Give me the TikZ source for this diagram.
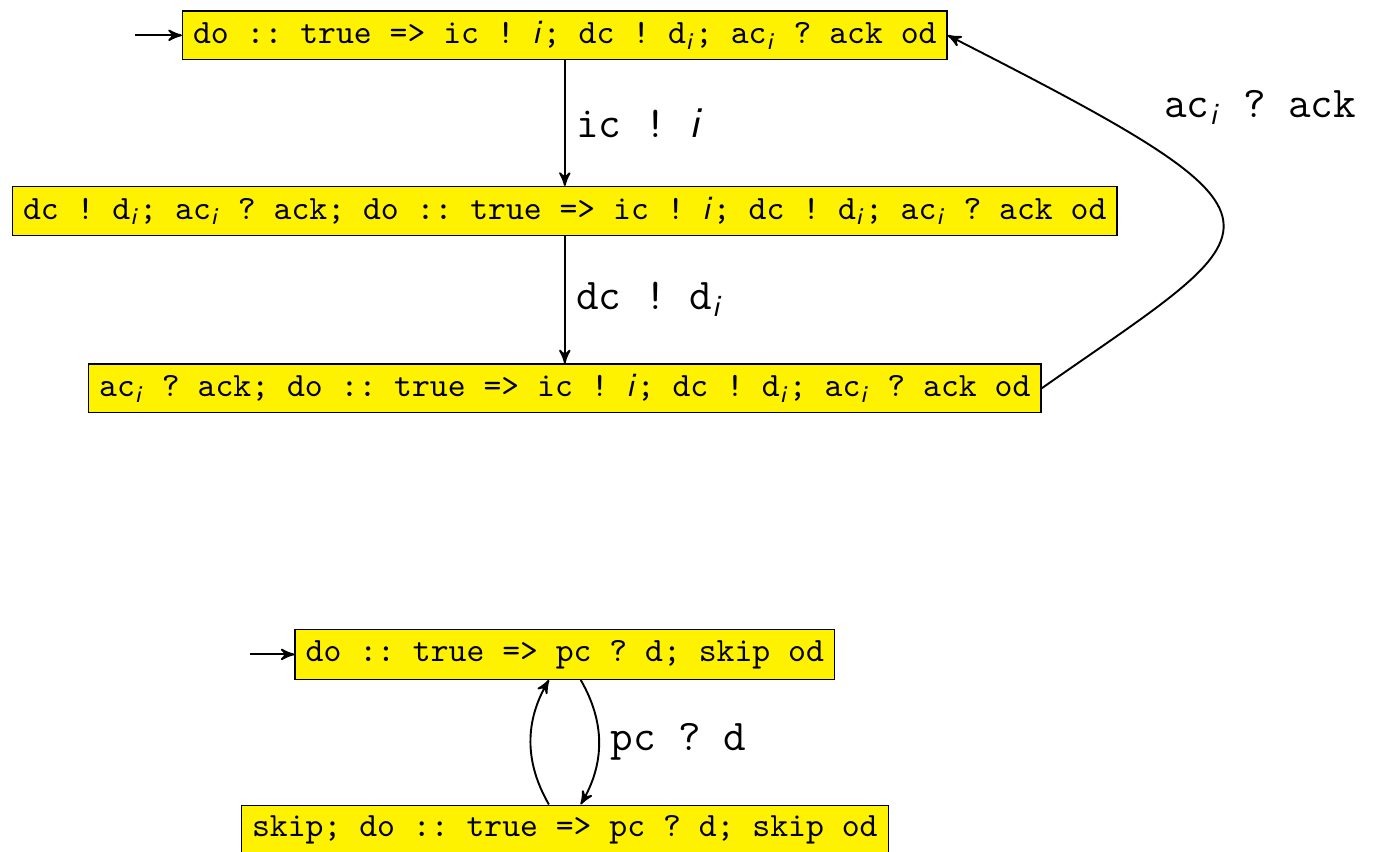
\documentclass[tikz,border=0pt]{standalone}
\usepackage{tikz}
\usetikzlibrary{arrows}
\definecolor{stateyellow}{RGB}{255,242,0}
\newcommand{\vi}{\textsf{\textit{i}}}
\newcommand{\ix}{\textsubscript{\textsf{\textit{i}}}}
\begin{document}
\begin{tikzpicture}[>=stealth',
    state/.style={draw, thin, fill=stateyellow,
      font=\fontsize{10.7}{13}\selectfont\ttfamily\frenchspacing},
    lbl/.style={font=\fontsize{13.8}{16}\selectfont\ttfamily\frenchspacing}]
  \useasboundingbox (0,0) rectangle (15.18,-9.41);
  % sender
  \node[state] (s0) at (6.24,-0.39) {do :: true => ic ! \vi; dc ! d\ix; ac\ix{} ? ack od};
  \node[state] (s1) at (6.24,-2.33) {dc ! d\ix; ac\ix{} ? ack; do :: true => ic ! \vi; dc ! d\ix; ac\ix{} ? ack od};
  \node[state] (s2) at (6.24,-4.29) {ac\ix{} ? ack; do :: true => ic ! \vi; dc ! d\ix; ac\ix{} ? ack od};
  \coordinate (s0in) at (1.49,-0.39);
  \draw[->, semithick] (s0in) -- (s0);
  \draw[->, semithick] (s0) -- node[right, lbl] {ic ! \vi} (s1);
  \draw[->, semithick] (s1) -- node[right, lbl] {dc ! d\ix} (s2);
  \draw[->, semithick] (s2.east) .. controls +(35:3.2) and +(-27:4.6) ..
    node[pos=0.78, above right, xshift=5.5pt, lbl] {ac\ix{} ? ack} (s0.east);
  % receiver
  \node[state] (r0) at (6.24,-7.23) {do :: true => pc ? d; skip od};
  \node[state] (r1) at (6.24,-9.17) {skip; do :: true => pc ? d; skip od};
  \coordinate (r0in) at (2.76,-7.23);
  \draw[->, semithick] (r0in) -- (r0);
  \draw[->, semithick] ([xshift=5pt]r0.south) to[bend left=30]
    node[right, lbl] {pc ? d} ([xshift=5pt]r1.north);
  \draw[->, semithick] ([xshift=-5pt]r1.north) to[bend left=30] ([xshift=-5pt]r0.south);
\end{tikzpicture}
\end{document}
